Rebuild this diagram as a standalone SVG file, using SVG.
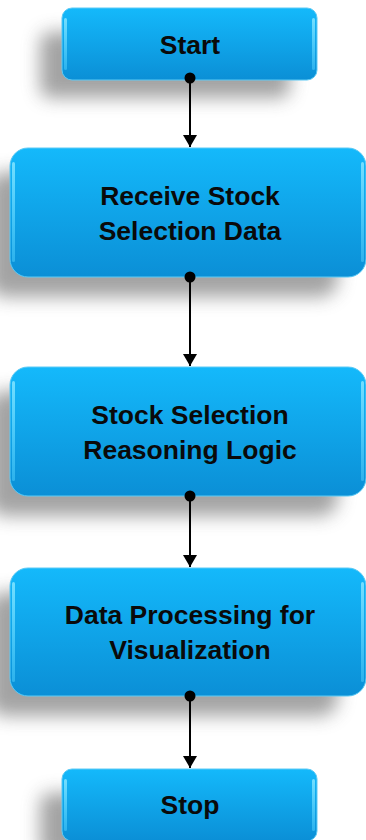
<svg xmlns="http://www.w3.org/2000/svg" width="366" height="840" viewBox="0 0 366 840">
<defs>
<linearGradient id="g" x1="0" y1="0" x2="0" y2="1">
<stop offset="0" stop-color="#14b9fb"/>
<stop offset="1" stop-color="#0b8fd6"/>
</linearGradient>
<linearGradient id="hl" x1="0" y1="0" x2="0" y2="1">
<stop offset="0" stop-color="#7fe3ff" stop-opacity="0.9"/>
<stop offset="1" stop-color="#4fd0ff" stop-opacity="0.5"/>
</linearGradient>
<filter id="sh" x="-30%" y="-40%" width="160%" height="190%">
<feGaussianBlur stdDeviation="9"/>
</filter>
<marker id="arr" viewBox="0 0 12 14" refX="12" refY="7" markerWidth="12" markerHeight="14" markerUnits="userSpaceOnUse" orient="auto">
<path d="M0,0 L12,7 L0,14 Z" fill="#000"/>
</marker>
</defs>
<style>
.box{fill:url(#g);stroke:#5ccaf5;stroke-width:1}
.shadow{fill:#666;opacity:0.6;filter:url(#sh)}
.hl{fill:url(#hl)}
.t{font-family:"Liberation Sans",Arial,sans-serif;font-weight:bold;font-size:26.5px;fill:#0a0a0a;text-anchor:middle}
.c{stroke:#000;stroke-width:2;fill:none}
.dot{fill:#000}
</style>
<g id="start">
<rect class="shadow" x="40" y="32" width="250" height="66" rx="10"/>
<rect class="box" x="62" y="8" width="255" height="72" rx="10"/>
<rect class="hl" x="64" y="18" width="3" height="52" rx="1.5"/>
<rect class="hl" x="312" y="18" width="3" height="52" rx="1.5"/>
<text class="t" x="190" y="54">Start</text>
</g>
<g id="receive">
<rect class="shadow" x="-12" y="172" width="350" height="125" rx="18"/>
<rect class="box" x="10" y="148" width="356" height="129" rx="18"/>
<rect class="hl" x="12" y="162" width="3" height="100" rx="1.5"/>
<rect class="hl" x="361" y="162" width="3" height="100" rx="1.5"/>
<text class="t" x="190" y="205">Receive Stock</text>
<text class="t" x="190" y="240">Selection Data</text>
</g>
<g id="reasoning">
<rect class="shadow" x="-12" y="391" width="350" height="125" rx="18"/>
<rect class="box" x="10" y="367" width="356" height="129" rx="18"/>
<rect class="hl" x="12" y="381" width="3" height="100" rx="1.5"/>
<rect class="hl" x="361" y="381" width="3" height="100" rx="1.5"/>
<text class="t" x="190" y="424">Stock Selection</text>
<text class="t" x="190" y="459">Reasoning Logic</text>
</g>
<g id="processing">
<rect class="shadow" x="-12" y="592" width="350" height="124" rx="18"/>
<rect class="box" x="10" y="568" width="356" height="128" rx="18"/>
<rect class="hl" x="12" y="582" width="3" height="100" rx="1.5"/>
<rect class="hl" x="361" y="582" width="3" height="100" rx="1.5"/>
<text class="t" x="190" y="624">Data Processing for</text>
<text class="t" x="190" y="659">Visualization</text>
</g>
<g id="stop">
<rect class="shadow" x="40" y="793" width="250" height="66" rx="10"/>
<rect class="box" x="62" y="769" width="255" height="72" rx="10"/>
<rect class="hl" x="64" y="779" width="3" height="52" rx="1.5"/>
<rect class="hl" x="312" y="779" width="3" height="52" rx="1.5"/>
<text class="t" x="190" y="814">Stop</text>
</g>
<g id="connectors">
<line class="c" x1="190" y1="78" x2="190" y2="147" marker-end="url(#arr)"/>
<circle class="dot" cx="190" cy="78" r="5.5"/>
<line class="c" x1="190" y1="277" x2="190" y2="366" marker-end="url(#arr)"/>
<circle class="dot" cx="190" cy="277" r="5.5"/>
<line class="c" x1="190" y1="496" x2="190" y2="567" marker-end="url(#arr)"/>
<circle class="dot" cx="190" cy="496" r="5.5"/>
<line class="c" x1="190" y1="696" x2="190" y2="768" marker-end="url(#arr)"/>
<circle class="dot" cx="190" cy="696" r="5.5"/>
</g>
</svg>
